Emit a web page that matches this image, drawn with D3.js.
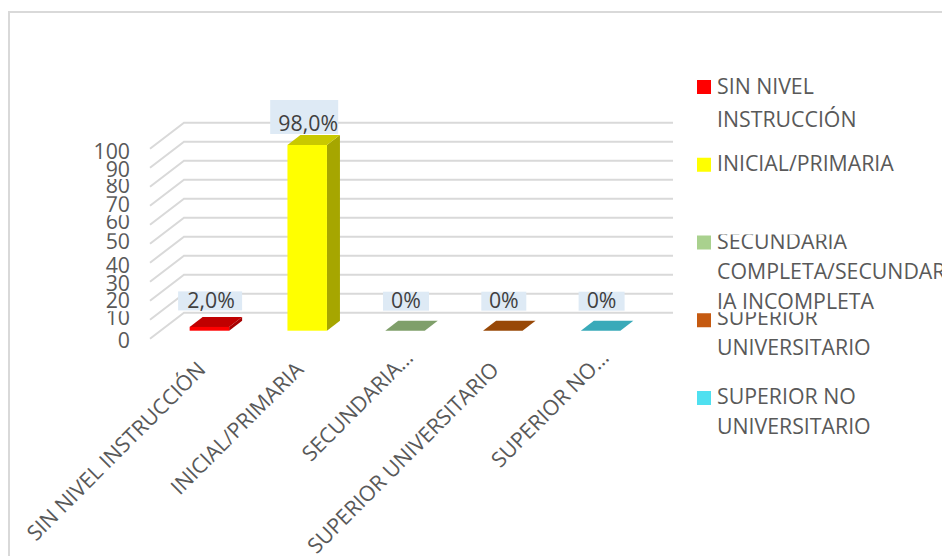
<!DOCTYPE html>
<html>
<head>
<meta charset="utf-8">
<script src="https://cdn.jsdelivr.net/npm/d3@7"></script>
<style>
  html, body { margin: 0; padding: 0; background: #fff; }
  svg { display: block; font-family: "Open Sans", sans-serif; }
</style>
</head>
<body>
<script>
// Data
const categories = ["SIN NIVEL INSTRUCCIÓN", "INICIAL/PRIMARIA", "SECUNDARIA COMPLETA/SECUNDARIA INCOMPLETA", "SUPERIOR UNIVERSITARIO", "SUPERIOR NO UNIVERSITARIO"];
const values = [2, 98, 0, 0, 0];
const valueLabels = ["2,0%", "98,0%", "0%", "0%", "0%"];
const axisLabels = ["SIN NIVEL INSTRUCCIÓN", "INICIAL/PRIMARIA", "SECUNDARIA…", "SUPERIOR UNIVERSITARIO", "SUPERIOR NO…"];
const yTicks = [0, 10, 20, 30, 40, 50, 60, 70, 80, 90, 100];
const legendLines = [["SIN NIVEL", "INSTRUCCIÓN"], ["INICIAL/PRIMARIA"], ["SECUNDARIA", "COMPLETA/SECUNDAR", "IA INCOMPLETA"], ["SUPERIOR", "UNIVERSITARIO"], ["SUPERIOR NO", "UNIVERSITARIO"]];

// colours
const frontColor = ["#ff0000", "#ffff00", "#a9d18e", "#c55a11", "#4fe0f0"];
const topColor = ["#c00000", "#c9c900", "#7f9f6a", "#984807", "#39aab9"];
const sideColor = ["#a60000", "#a6a600", "#6f8c5c", "#843f06", "#2f8f9c"];

const width = 942, height = 556;
const fontSize = 21.3;

// 3d box offsets
const wallDx = 34, wallDy = -26;
const barDx = 13, barDy = -10;

const svg = d3.select("body").append("svg")
  .attr("width", width)
  .attr("height", height);

const defs = svg.append("defs");

// chart frame
svg.append("path")
  .attr("d", "M9,556V12H942")
  .attr("fill", "none")
  .attr("stroke", "#d9d9d9")
  .attr("stroke-width", 2);

// x is the back wall, y is the front of the floor
const x = d3.scaleBand().domain(categories).range([184, 673]);
const y = d3.scaleLinear().domain([0, 100]).range([338.7, 148.7]);
// bars stand a little behind the front edge
const barBase = 330.7;
const barScale = d3.scaleLinear().domain([0, 100]).range([0, 189.5]);
const barW = 39.5;
const barX = d => x(d) + x.bandwidth() / 2 - 23.5 - barW / 2;

// gridlines, back wall and floor side
const grid = svg.append("g").attr("fill", "none").attr("stroke", "#d9d9d9").attr("stroke-width", 2);
grid.selectAll("path")
  .data(yTicks)
  .enter().append("path")
  .attr("d", d => "M150," + y(d) + "L" + (150 + wallDx) + "," + (y(d) + wallDy) + "H673");

// bars
const bars = svg.append("g").selectAll("g")
  .data(categories)
  .enter().append("g");

bars.append("path")
  .attr("fill", (d, i) => sideColor[i])
  .attr("d", (d, i) => {
    const x1 = barX(d) + barW, h = barScale(values[i]);
    return "M" + x1 + "," + barBase + "V" + (barBase - h) + "l" + barDx + "," + barDy + "V" + (barBase + barDy) + "Z";
  });

bars.append("path")
  .attr("fill", (d, i) => topColor[i])
  .attr("d", (d, i) => {
    const top = barBase - barScale(values[i]);
    return "M" + barX(d) + "," + top + "h" + barW + "l" + barDx + "," + barDy + "h" + (-barW) + "Z";
  });

bars.append("rect")
  .attr("fill", (d, i) => frontColor[i])
  .attr("x", barX)
  .attr("width", barW)
  .attr("y", (d, i) => barBase - barScale(values[i]))
  .attr("height", (d, i) => barScale(values[i]));

// value labels, box sizes follow the reference rather than the text
const valueLift = [19, 13.5, 22.5, 22.5, 22.5];
const boxW = [64, 68, 46, 45, 46];
const boxH = [19, 34, 19, 19, 19];
const boxShift = [0.7, -3, 1, 1, 1];
const textShift = [1.7, 1, 1, 1, 1];
const valueBase = (d, i) => barBase - barScale(values[i]) - valueLift[i];
const valueGroup = svg.append("g").selectAll("g")
  .data(categories)
  .enter().append("g");

valueGroup.append("rect")
  .attr("fill", "#deeaf5")
  .attr("x", (d, i) => barX(d) + barW / 2 + boxShift[i] - boxW[i] / 2)
  .attr("width", (d, i) => boxW[i])
  .attr("y", (d, i) => valueBase(d, i) + 2.5 - boxH[i])
  .attr("height", (d, i) => boxH[i]);

valueGroup.append("text")
  .attr("font-size", fontSize)
  .attr("fill", "#404040")
  .attr("x", (d, i) => barX(d) + barW / 2 + textShift[i])
  .attr("y", valueBase)
  .attr("text-anchor", "middle")
  .text((d, i) => valueLabels[i]);

// y axis labels sit unevenly in the reference and some lose their top
const yNudge = [8.8, 5.45, 7.1, 9.05, 10, 5.55, 4.5, 6.45, 6.4, 9.35, 10];
const yClip = [0, 2, 0, 0, 0, 0, 2, 0, 2, 0, 0];
const yLabels = svg.append("g");
yTicks.forEach((t, i) => {
  const base = y(t) + yNudge[i];
  defs.append("clipPath").attr("id", "yc" + i)
    .append("rect").attr("x", 80).attr("width", 60)
    .attr("y", base - 16 + yClip[i]).attr("height", 24);
  yLabels.append("text")
    .attr("x", 130)
    .attr("y", base)
    .attr("text-anchor", "end")
    .attr("font-size", fontSize)
    .attr("fill", "#595959")
    .attr("clip-path", "url(#yc" + i + ")")
    .text(t);
});

// rotated category labels, the shortened ones sit further along their slant
const labelSlide = [0, 0, 17, 0, 17];
svg.append("g").selectAll("text")
  .data(categories)
  .enter().append("text")
  .attr("transform", d => "translate(" + (barX(d) + barW / 2 - 2.5) + ",371) rotate(-45)")
  .attr("x", (d, i) => labelSlide[i])
  .attr("text-anchor", "end")
  .attr("font-size", fontSize)
  .attr("fill", "#595959")
  .text((d, i) => axisLabels[i]);

// legend
const legendY = d3.scalePoint().domain(categories).range([80, 391]);
const legendBase = [14, 13.5, 13, 12, 13];
const legendGap = [33, 33, 30, 30, 30];
const legendClipTop = [0, 0, 14, 13, 0];
const legend = svg.append("g").selectAll("g")
  .data(categories)
  .enter().append("g");

legend.append("rect")
  .attr("x", 697)
  .attr("y", d => legendY(d))
  .attr("width", 14)
  .attr("height", 14)
  .attr("fill", (d, i) => frontColor[i]);

legend.each(function(d, i) {
  const top = legendY(d);
  const base = top + legendBase[i];
  defs.append("clipPath").attr("id", "lc" + i)
    .append("rect").attr("x", 700).attr("width", 300)
    .attr("y", legendClipTop[i] ? base - legendClipTop[i] : base - 24).attr("height", 110);
  d3.select(this).append("g")
    .attr("clip-path", "url(#lc" + i + ")")
    .selectAll("text")
    .data(legendLines[i])
    .enter().append("text")
    .attr("x", 717)
    .attr("y", (l, j) => base + j * legendGap[i])
    .attr("font-size", fontSize)
    .attr("fill", "#595959")
    .text(l => l);
});
</script>
</body>
</html>
